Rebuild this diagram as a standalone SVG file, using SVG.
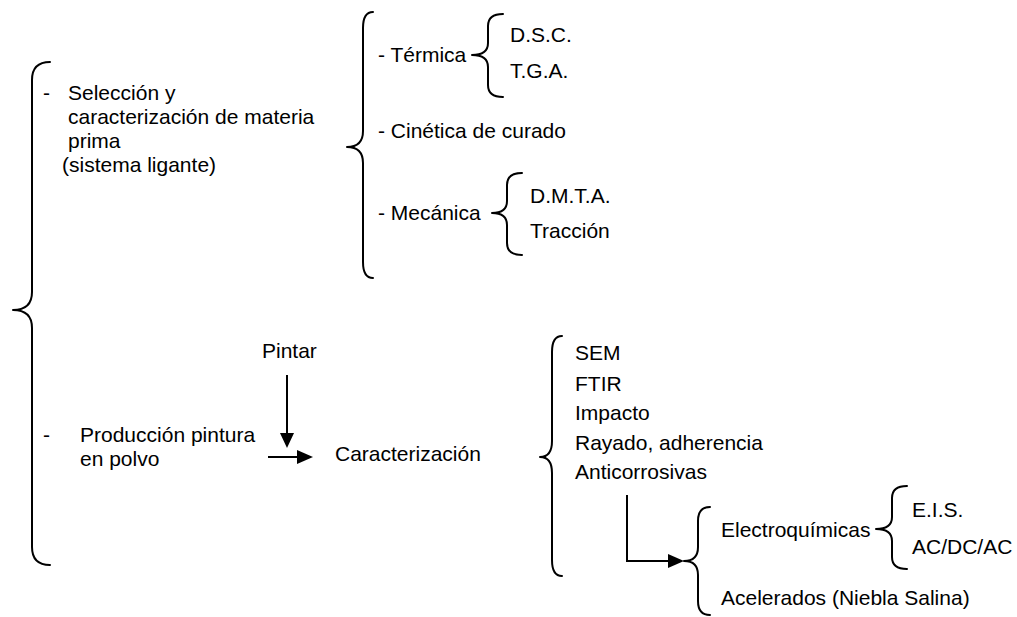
<svg xmlns="http://www.w3.org/2000/svg" width="1017" height="617" viewBox="0 0 1017 617">
<style>
text{font-family:"Liberation Sans",Arial,sans-serif;font-size:21px;fill:#000}
.br{fill:none;stroke:#000;stroke-width:2;stroke-linejoin:round;stroke-linecap:round}
.ln{fill:none;stroke:#000;stroke-width:2}
.ah{fill:#000}
</style>
<rect width="1017" height="617" fill="#fff"/>
<g id="brace-root"><path class="br" d="M50,62 Q32,62 32,80 L32,292 Q32,310 13,310 Q32,310 32,328 L32,547 Q32,565 50,565"/></g>
<g id="seleccion">
<text x="43" y="100">-</text>
<text x="68" y="100">Selección y</text>
<text x="68" y="124">caracterización de materia</text>
<text x="68" y="148">prima</text>
<text x="62" y="172">(sistema ligante)</text>
</g>
<g id="brace-seleccion"><path class="br" d="M373,12 Q363,12 363,28 L363,131 Q363,147 347,147 Q363,147 363,163 L363,262 Q363,278 373,278"/></g>
<g id="termica">
<text x="378" y="62">- Térmica</text>
<path class="br" d="M503,14 Q488,14 488,26 L488,43 Q488,55 472,55 Q488,55 488,67 L488,85 Q488,97 503,97"/>
<text x="510" y="42">D.S.C.</text>
<text x="510" y="78">T.G.A.</text>
</g>
<g id="cinetica"><text x="378" y="138">- Cinética de curado</text></g>
<g id="mecanica">
<text x="378" y="220">- Mecánica</text>
<path class="br" d="M522,173 Q507,173 507,185 L507,201 Q507,213 492,213 Q507,213 507,225 L507,243 Q507,255 522,255"/>
<text x="530" y="203">D.M.T.A.</text>
<text x="530" y="238">Tracción</text>
</g>
<g id="produccion">
<text x="43" y="442">-</text>
<text x="80" y="442">Producción pintura</text>
<text x="80" y="466">en polvo</text>
</g>
<g id="pintar"><text x="262" y="358">Pintar</text></g>
<g id="caracterizacion"><text x="335" y="461">Caracterización</text></g>
<g id="ensayos">
<path class="br" d="M562,336 Q552,336 552,352 L552,441 Q552,457 540,457 Q552,457 552,473 L552,560 Q552,576 562,576"/>
<text x="575" y="360">SEM</text>
<text x="575" y="391">FTIR</text>
<text x="575" y="420">Impacto</text>
<text x="575" y="450">Rayado, adherencia</text>
<text x="575" y="479">Anticorrosivas</text>
</g>
<g id="anticorrosivas">
<path class="br" d="M710,507 Q698,507 698,521 L698,547 Q698,561 684,561 Q698,561 698,575 L698,601 Q698,615 710,615"/>
<text x="721" y="537">Electroquímicas</text>
<text x="721" y="605">Acelerados (Niebla Salina)</text>
</g>
<g id="electroquimicas">
<path class="br" d="M907,486 Q892,486 892,498 L892,517 Q892,529 876,529 Q892,529 892,541 L892,557 Q892,569 907,569"/>
<text x="912" y="517">E.I.S.</text>
<text x="912" y="554">AC/DC/AC</text>
</g>
<g id="connectors">
<line class="ln" x1="287" y1="375" x2="287" y2="435"/>
<polygon class="ah" points="280,433 294,433 287,448"/>
<line class="ln" x1="268" y1="457" x2="299" y2="457"/>
<polygon class="ah" points="297,450 297,464 313,457"/>
<polyline class="ln" points="627,495 627,561 669,561"/>
<polygon class="ah" points="668,554 668,568 684,561"/>
</g>
</svg>
